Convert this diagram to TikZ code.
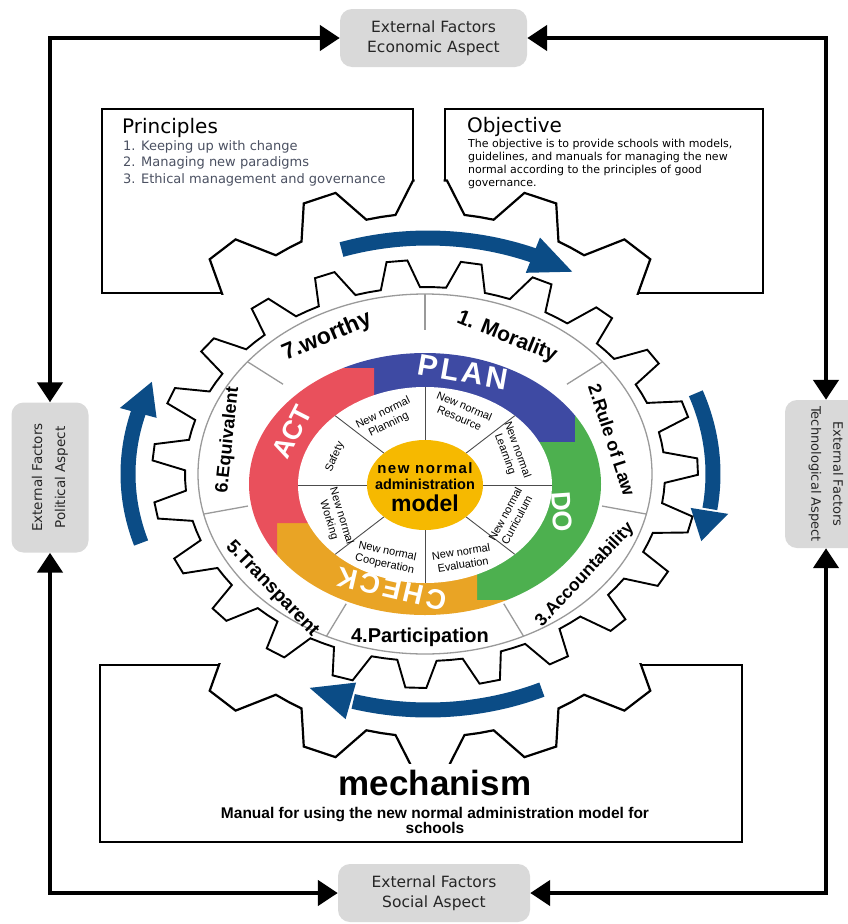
\documentclass[tikz,border=0pt]{standalone}
\usepackage{fontspec}
\setmainfont{Liberation Sans}
\newfontfamily\dvs{DejaVu Sans}
\newfontfamily\lsw[LetterSpace=10]{Liberation Sans}
\usetikzlibrary{arrows.meta}
\definecolor{extgray}{HTML}{D9D9D9}
\definecolor{blueplan}{HTML}{3E4AA3}
\definecolor{greendo}{HTML}{4DB04F}
\definecolor{orangecheck}{HTML}{E9A425}
\definecolor{redact}{HTML}{E9505C}
\definecolor{yellowc}{HTML}{F6B900}
\definecolor{arrowblue}{HTML}{0B4C86}
\definecolor{itemgray}{HTML}{4B5162}
\definecolor{ringgray}{HTML}{9A9A9A}
\newcommand\fsz[2]{\fontsize{#1}{#2}\selectfont}
\newcommand\OuterGear{({430+323*sin(-3)},{475-295*cos(-3)}) \foreach \k in {0,...,17}{ -- ({430+323*sin(20*\k-3)},{475-295*cos(20*\k-3)}) -- ({430+323*sin(20*\k+3)},{475-295*cos(20*\k+3)}) -- ({430+283*sin(20*\k+7)},{475-262*cos(20*\k+7)}) -- ({430+283*sin(20*\k+10)},{475-262*cos(20*\k+10)}) -- ({430+283*sin(20*\k+13)},{475-262*cos(20*\k+13)}) } -- cycle}
\newcommand\InnerGear{({425+273*sin(-8.1)},{474-214*cos(-8.1)}) \foreach \k [evaluate=\k as \a using -5.9+15.652*\k] in {0,...,22}{ -- ({425+273*sin(\a-2.2)},{474-214*cos(\a-2.2)}) -- ({425+273*sin(\a+2.2)},{474-214*cos(\a+2.2)}) -- ({425+240*sin(\a+4.7)},{474-187*cos(\a+4.7)}) -- ({425+240*sin(\a+7.83)},{474-187*cos(\a+7.83)}) -- ({425+240*sin(\a+10.95)},{474-187*cos(\a+10.95)}) } -- cycle}
\begin{document}
\begin{tikzpicture}[x=1pt,y=-1pt,
 frame/.style={line width=4.5pt, line cap=rect, -{Triangle[length=20pt,width=25pt]}},
 ext/.style={fill=extgray, rounded corners=12pt, inner sep=0pt, align=center, text=black!85},
 boxst/.style={draw=black, line width=2.4pt, fill=white, inner sep=0pt, outer sep=0pt},
 gearst/.style={draw=black, line width=2.2pt, fill=white, line join=miter},
 ringlab/.style={font=\bfseries, inner sep=0pt},
 seclab/.style={font=\fsz{11}{13}, align=center, inner sep=0pt},
 pdca/.style={text=white, inner sep=0pt},
 bluearrow/.style={draw=arrowblue, line width=15pt},
 sepline/.style={draw=ringgray, line width=1.3pt},
 inline/.style={draw=black!70, line width=0.9pt}]
\useasboundingbox (0,0) rectangle (848,924);
% ---------- external factors frame
\node[ext, font=\dvs\fsz{15.5}{20}, minimum width=187pt, minimum height=58pt] (econ) at (433.5,38) {External Factors\\Economic Aspect};
\node[ext, font=\dvs\fsz{13.5}{23}, minimum width=150pt, minimum height=77pt, rotate=90] (pol) at (50,477.5) {External Factors\\Political Aspect};
\node[ext, font=\dvs\fsz{13}{22}, minimum width=148pt, minimum height=82pt, rotate=-90] (tech) at (826,474) {External Factors\\Technological Aspect};
\node[ext, font=\dvs\fsz{15.5}{20}, minimum width=192pt, minimum height=58pt] (soc) at (434,893) {External Factors\\Social Aspect};
\coordinate (TL) at (50,38);
\coordinate (TR) at (826,38);
\coordinate (BL) at (50,893);
\coordinate (BR) at (826,893);
\draw[frame] (TL) -- (econ);
\draw[frame] (TR) -- (econ);
\draw[frame] (TL) -- (pol);
\draw[frame] (BL) -- (pol);
\draw[frame] (TR) -- (tech);
\draw[frame] (BR) -- (tech);
\draw[frame] (BL) -- (soc);
\draw[frame] (BR) -- (soc);
% ---------- boxes cut by the big gear
\node[boxst, minimum width=311pt, minimum height=184pt] (princ) at (257.5,201) {};
\node[boxst, minimum width=318pt, minimum height=184pt] (obj) at (604,201) {};
\node[boxst, minimum width=642pt, minimum height=177pt] (mech) at (421,753.5) {};
\begin{scope}
\clip (100.5,107.5) rectangle (414.5,294.5);
\path[gearst] \OuterGear;
\end{scope}
\begin{scope}
\clip (443.5,107.5) rectangle (764.5,294.5);
\path[gearst] \OuterGear;
\end{scope}
\begin{scope}
\clip (98.5,663.5) rectangle (743.5,843.5);
\path[gearst] \OuterGear;
\end{scope}
\fill[white] (390,764) rectangle (474,800);
% box texts
\node[font=\dvs\fsz{20}{22}, anchor=base west, inner sep=0pt] (ptitle) at (122,133) {Principles};
\node[font=\dvs\fsz{13}{16.5}, text=itemgray, anchor=north west, align=left, inner sep=0pt] (pitems) at (123,140) {1. Keeping up with change\\2. Managing new paradigms\\3. Ethical management and governance};
\node[font=\dvs\fsz{20}{22}, anchor=base west, inner sep=0pt] (otitle) at (467,132) {Objective};
\node[font=\dvs\fsz{11}{13}, anchor=north west, align=left, inner sep=0pt] (otext) at (468,139) {The objective is to provide schools with models,\\guidelines, and manuals for managing the new\\normal according to the principles of good\\governance.};
\node[font=\bfseries\fsz{35}{40}, anchor=base, inner sep=0pt] (mtitle) at (435,795) {mechanism};
\node[font=\bfseries\fsz{15.5}{17}, anchor=base, inner sep=0pt] (mtext1) at (435,818) {Manual for using the new normal administration model for};
\node[font=\bfseries\fsz{15.5}{17}, anchor=base, inner sep=0pt] (mtext2) at (435,833) {schools};
% ---------- blue rotation arrows
\draw[bluearrow] plot[domain=108:67.5, samples=30, variable=\t] ({428+280*cos(\t)},{474-236*sin(\t)});
\fill[arrowblue] ({428+299*cos(68)},{474-255*sin(68)}) -- ({428+280*cos(59)},{474-236*sin(59)}) -- ({428+261*cos(68)},{474-217*sin(68)}) -- cycle;
\draw[bluearrow] plot[domain=20:-8.5, samples=30, variable=\t] ({428+285*cos(\t)},{474-236*sin(\t)});
\fill[arrowblue] ({428+304*cos(-9)},{474-255*sin(-9)}) -- ({428+285*cos(-16.5)},{474-236*sin(-16.5)}) -- ({428+266*cos(-9)},{474-217*sin(-9)}) -- cycle;
\draw[bluearrow] plot[domain=197:164.5, samples=30, variable=\t] ({428+300*cos(\t)},{474-236*sin(\t)});
\fill[arrowblue] ({428+319*cos(165)},{474-255*sin(165)}) -- ({428+300*cos(157)},{474-236*sin(157)}) -- ({428+281*cos(165)},{474-217*sin(165)}) -- cycle;
\draw[bluearrow] plot[domain=-66:-105.5, samples=30, variable=\t] ({428+280*cos(\t)},{474-236*sin(\t)});
\fill[arrowblue] ({428+299*cos(-106)},{474-255*sin(-106)}) -- ({428+280*cos(-115)},{474-236*sin(-115)}) -- ({428+261*cos(-106)},{474-217*sin(-106)}) -- cycle;
% ---------- inner gear and ring
\path[draw=black, line width=1.9pt, fill=white, line join=miter] \InnerGear;
\draw[sepline] (425,474) ellipse [x radius=227pt, y radius=180pt];
\foreach \t in {90,38.571,-12.857,-64.286,-115.714,-167.143,141.429}
  \draw[sepline] ({425+227*cos(\t)},{474-180*sin(\t)}) -- ({425+0.8*227*cos(\t)},{474-0.8*180*sin(\t)});
\node[ringlab, font=\bfseries\fsz{23}{26}, rotate=23] (l7) at (327,337) {7.worthy};
\node[ringlab, font=\bfseries\fsz{21}{24}, rotate=-22] (l1) at (507,337) {1. Morality};
\node[ringlab, font=\bfseries\fsz{18}{22}, rotate=-72] (l2) at (612,440) {2.Rule of Law};
\node[ringlab, font=\bfseries\fsz{17.5}{22}, rotate=47] (l3) at (585,575) {3.Accountability};
\node[ringlab, font=\bfseries\fsz{20}{24}] (l4) at (420,637) {4.Participation};
\node[ringlab, font=\bfseries\fsz{19}{22}, rotate=-46] (l5) at (272,589) {5.Transparent};
\node[ringlab, font=\bfseries\fsz{18}{22}, rotate=84] (l6) at (228,440) {6.Equivalent};
% ---------- PDCA band
\begin{scope}
\clip (425,484) ellipse [x radius=176pt, y radius=131pt];
\fill[blueplan] (250,250) -- (575,250) -- (575,442) -- (374,442) -- (374,368) -- (250,368) -- cycle;
\fill[greendo] (575,250) -- (700,250) -- (700,600) -- (477,600) -- (477,442) -- (575,442) -- cycle;
\fill[orangecheck] (277,523) -- (477,523) -- (477,600) -- (700,600) -- (700,700) -- (277,700) -- cycle;
\fill[redact] (150,368) -- (374,368) -- (374,523) -- (277,523) -- (277,700) -- (150,700) -- cycle;
\end{scope}
\fill[white] (425,485) ellipse [x radius=127pt, y radius=98pt];
\foreach \t in {0,45,...,315}
  \draw[inline] ({425+58*cos(\t)},{485-45*sin(\t)}) -- ({425+127*cos(\t)},{485-98*sin(\t)});
\fill[yellowc] (425,485) ellipse [x radius=58pt, y radius=45pt];
\node[pdca, font=\lsw\bfseries\fsz{30}{32}, rotate=-10] (plan) at (463,372) {PLAN};
\node[pdca, font=\bfseries\fsz{27}{30}, rotate=-86] (do) at (562,512) {DO};
\node[pdca, font=\lsw\bfseries\fsz{28}{30}, rotate=167] (check) at (392,589) {CHECK};
\node[pdca, font=\bfseries\fsz{27}{30}, rotate=63] (act) at (292,432) {ACT};
% sector labels
\node[seclab, rotate=26] (s1) at (386,419) {New normal\\Planning};
\node[seclab, rotate=-23] (s2) at (462,412) {New normal\\Resource};
\node[seclab, rotate=-70] (s3) at (511,452) {New normal\\Learning};
\node[seclab, rotate=62] (s4) at (511,517) {New normal\\Curriculum};
\node[seclab, rotate=9] (s5) at (462,558) {New normal\\Evaluation};
\node[seclab, rotate=-12] (s6) at (386,558) {New normal\\Cooperation};
\node[seclab, rotate=-73] (s7) at (335,518) {New normal\\Working};
\node[seclab, rotate=66] (s8) at (335,457) {Safety};
% centre
\node[font=\lsw\bfseries\fsz{15}{17}, inner sep=0pt] (c1) at (425,468) {new normal};
\node[font=\bfseries\fsz{14.5}{17}, inner sep=0pt] (c2) at (425,484) {administration};
\node[font=\bfseries\fsz{23}{26}, inner sep=0pt] (c3) at (425,503) {model};
\end{tikzpicture}
\end{document}
